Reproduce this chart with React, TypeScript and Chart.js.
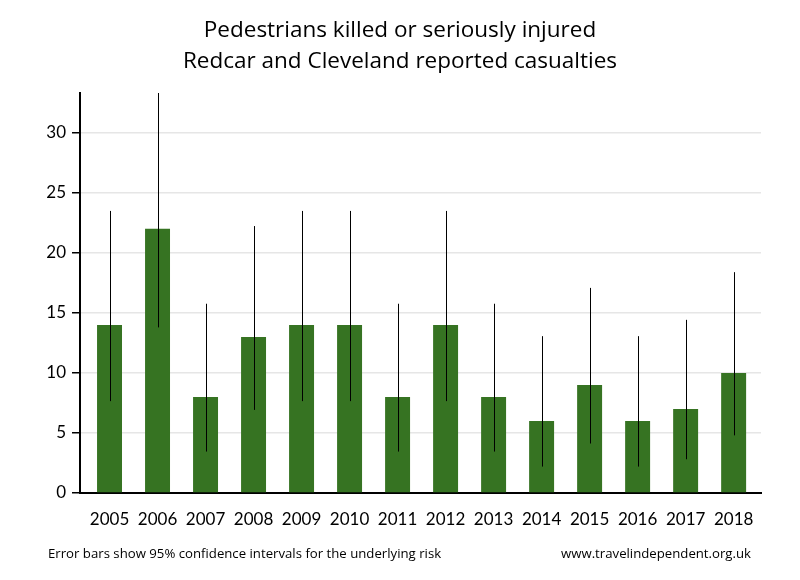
import React, { useEffect, useRef } from "react";
import { Chart, registerables } from "chart.js";

Chart.register(...registerables);

const years = ["2005","2006","2007","2008","2009","2010","2011","2012","2013","2014","2015","2016","2017","2018"];
const casualties = [14, 22, 8, 13, 14, 14, 8, 14, 8, 6, 9, 6, 7, 10];
const lowerCI = [7.65, 13.79, 3.45, 6.92, 7.65, 7.65, 3.45, 7.65, 3.45, 2.2, 4.12, 2.2, 2.81, 4.8];
const upperCI = [23.49, 34.2, 15.76, 22.23, 23.49, 23.49, 15.76, 23.49, 15.76, 13.06, 17.08, 13.06, 14.42, 18.39];
const yTicks = [0, 5, 10, 15, 20, 25, 30];
const titleLines = ["Pedestrians killed or seriously injured", "Redcar and Cleveland reported casualties"];
const footLeft = "Error bars show 95% confidence intervals for the underlying risk";
const footRight = "www.travelindependent.org.uk";

const TICK_FONT = "Lato, 'Open Sans', sans-serif";
const TEXT_FONT = "'Open Sans', Lato, sans-serif";

const decorPlugin = {
  id: "decor",
  afterDatasetsDraw(chart: any) {
    const { ctx, chartArea, scales } = chart;
    const xs = scales.x;
    const ys = scales.y;
    ctx.save();
    ctx.beginPath();
    ctx.rect(chartArea.left, chartArea.top, chartArea.right - chartArea.left, chartArea.bottom - chartArea.top);
    ctx.clip();
    ctx.strokeStyle = "#000";
    ctx.lineWidth = 1;
    for (let i = 0; i < years.length; i++) {
      const x = Math.round(xs.getPixelForValue(i)) + 0.5;
      ctx.beginPath();
      ctx.moveTo(x, ys.getPixelForValue(lowerCI[i]));
      ctx.lineTo(x, ys.getPixelForValue(upperCI[i]));
      ctx.stroke();
    }
    ctx.restore();
  },
  afterDraw(chart: any) {
    const { ctx } = chart;
    ctx.save();
    ctx.fillStyle = "#000";
    ctx.textBaseline = "alphabetic";
    ctx.textAlign = "center";
    ctx.font = `22.5px ${TEXT_FONT}`;
    ctx.fillText(titleLines[0], 400, 37);
    ctx.fillText(titleLines[1], 400, 68);
    ctx.font = `13.2px ${TEXT_FONT}`;
    ctx.textAlign = "left";
    ctx.fillText(footLeft, 48, 558);
    ctx.textAlign = "right";
    ctx.fillText(footRight, 751, 558);
    ctx.restore();
  },
};

export default function App() {
  const ref = useRef<HTMLCanvasElement | null>(null);
  useEffect(() => {
    if (!ref.current) return;
    const chart = new Chart(ref.current, {
      type: "bar",
      data: {
        datasets: [
          {
            data: casualties.map((v, i) => ({ x: i, y: v })),
            backgroundColor: "#367322",
            borderWidth: 0,
            barPercentage: 0.52,
            categoryPercentage: 1,
          },
        ],
      },
      options: {
        responsive: false,
        animation: false,
        layout: { padding: { top: 93, right: 39, left: 0, bottom: 0 } },
        plugins: {
          legend: { display: false },
          title: { display: false },
          tooltip: { enabled: false },
        },
        scales: {
          x: {
            type: "linear",
            offset: false,
            min: -0.615,
            max: 13.57,
            grid: { display: false, drawTicks: false, offset: false },
            border: { display: true, color: "#000", width: 2 },
            afterFit: (s: any) => { s.height = 87; },
            afterBuildTicks: (s: any) => {
              s.ticks = years.map((_, i) => ({ value: i }));
            },
            ticks: {
              stepSize: 1,
              includeBounds: false,
              autoSkip: false,
              maxRotation: 0,
              padding: 16,
              color: "#000",
              font: { family: TICK_FONT, size: 17 },
              callback: (v: any) => years[v] ?? "",
            },
          },
          y: {
            min: 0,
            max: 33.31,
            afterFit: (s: any) => { s.width = 80; },
            afterBuildTicks: (s: any) => {
              s.ticks = yTicks.map((v) => ({ value: v }));
            },
            grid: {
              color: "#e6e6e6",
              lineWidth: 1.5,
              drawTicks: true,
              tickLength: 8,
              tickColor: "#000",
              tickWidth: 1.5,
            },
            border: { display: true, color: "#000", width: 2 },
            ticks: {
              stepSize: 5,
              includeBounds: false,
              padding: 6,
              color: "#000",
              font: { family: TICK_FONT, size: 17 },
            },
          },
        },
      },
      plugins: [decorPlugin],
    } as any);
    return () => chart.destroy();
  }, []);
  return (
    <div style={{ position: "fixed", left: 0, top: 0, width: 800, height: 580, background: "#fff" }}>
      <canvas ref={ref} width={800} height={580} />
    </div>
  );
}
